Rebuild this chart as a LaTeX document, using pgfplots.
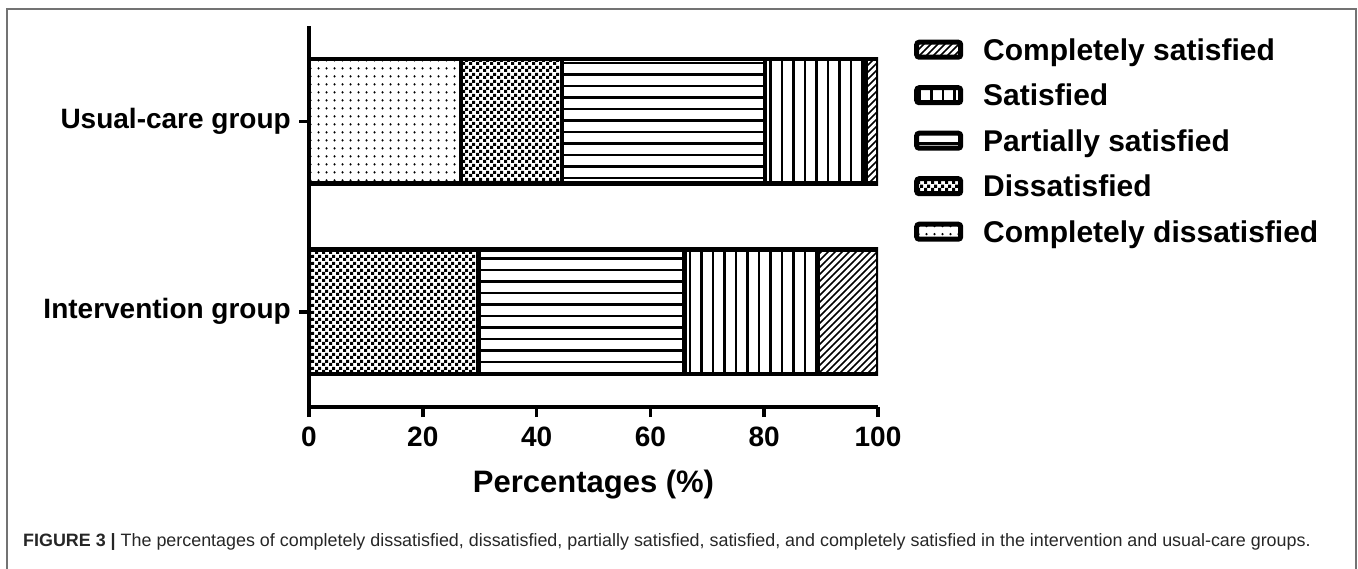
\documentclass[border=0pt]{standalone}
\usepackage{fontspec}
\setmainfont{Liberation Sans}
\usepackage{pgfplots}
\pgfplotsset{compat=1.18}
\usetikzlibrary{patterns}

% fill patterns of the five answers
\pgfdeclarepatternformonly{hlines}{\pgfqpoint{0bp}{-1.5bp}}{\pgfqpoint{20bp}{1.5bp}}{\pgfqpoint{20bp}{11.5bp}}%
  {\pgfsetlinewidth{2.1bp}\pgfpathmoveto{\pgfqpoint{0bp}{0bp}}\pgfpathlineto{\pgfqpoint{20bp}{0bp}}\pgfusepath{stroke}}
\pgfdeclarepatternformonly{vlines}{\pgfqpoint{-1.5bp}{0bp}}{\pgfqpoint{1.5bp}{20bp}}{\pgfqpoint{11.5bp}{20bp}}%
  {\pgfsetlinewidth{2.1bp}\pgfpathmoveto{\pgfqpoint{0bp}{0bp}}\pgfpathlineto{\pgfqpoint{0bp}{20bp}}\pgfusepath{stroke}}
\pgfdeclarepatternformonly{nelines}{\pgfqpoint{-1bp}{-1bp}}{\pgfqpoint{8bp}{8bp}}{\pgfqpoint{7bp}{7bp}}%
  {\pgfsetlinewidth{1.6bp}\pgfpathmoveto{\pgfqpoint{0bp}{0bp}}\pgfpathlineto{\pgfqpoint{7.1bp}{7.1bp}}\pgfusepath{stroke}}
\pgfdeclarepatternformonly{sdots}{\pgfqpoint{0bp}{0bp}}{\pgfqpoint{7.5bp}{7.7bp}}{\pgfqpoint{7.5bp}{7.7bp}}%
  {\pgfpathcircle{\pgfqpoint{3.75bp}{3.85bp}}{1.3bp}\pgfusepath{fill}}
\pgfdeclarepatternformonly{checker}{\pgfqpoint{0bp}{0bp}}{\pgfqpoint{7bp}{7bp}}{\pgfqpoint{7bp}{7bp}}%
  {\pgfpathrectangle{\pgfqpoint{0bp}{0bp}}{\pgfqpoint{3.5bp}{3.5bp}}\pgfpathrectangle{\pgfqpoint{3.5bp}{3.5bp}}{\pgfqpoint{3.5bp}{3.5bp}}\pgfusepath{fill}}

\pgfplotsset{
  seg/.style={draw=black, line width=4.5bp, pattern=#1, pattern color=black,
    legend image code/.code={\draw[##1, line width=5bp, rounded corners=2.5bp] (0bp,-7.5bp) rectangle (44bp,7.5bp);}},
}

\begin{document}
\begin{tikzpicture}
\useasboundingbox (0,0) rectangle (1358bp,-569bp);
\draw[black!55, line width=1.5bp] (7bp,-620bp) -- (7bp,-9bp) -- (1356bp,-9bp) -- (1356bp,-620bp);

\begin{axis}[
  at={(309bp,-407bp)}, anchor=south west,
  scale only axis, width=569bp, height=381bp,
  xbar stacked, bar width=0.655,
  xmin=0, xmax=100, ymin=-0.5, ymax=1.5,
  axis x line*=bottom, axis y line*=left,
  axis line style={line width=4bp},
  xtick={0,20,...,100}, ytick={0,1},
  yticklabels={Intervention group, Usual-care group},
  tick align=outside, major tick length=10bp,
  tick style={line width=3.5bp, black},
  /pgf/number format/assume math mode=true,
  xticklabel style={font=\fontsize{28bp}{30bp}\selectfont\bfseries, inner sep=0bp, anchor=north, yshift=-10bp},
  yticklabel style={font=\fontsize{28bp}{30bp}\selectfont\bfseries, inner sep=0bp, anchor=east, xshift=-8bp},
  xlabel={Percentages (\%)},
  xlabel style={font=\fontsize{31bp}{34bp}\selectfont\bfseries, inner sep=0bp, at={(rel axis cs:0.5,0)}, anchor=base, yshift=-85bp},
  reverse legend,
  legend cell align=left,
  legend style={at={(1.0633,0.9665)}, anchor=north west, draw=none, fill=none, inner sep=0bp,
    row sep=24bp, column sep=20bp,
    font=\fontsize{30bp}{32bp}\selectfont\bfseries,
    nodes={inner sep=0bp, text height=21.5bp, text depth=0bp}},
]
% x = percentage, y = group (0 intervention, 1 usual care)
\addplot[seg=sdots]   coordinates {(0,0)    (26.7,1)};
\addplot[seg=checker] coordinates {(29.8,0) (17.8,1)};
\addplot[seg=hlines]  coordinates {(36.2,0) (35.6,1)};
\addplot[seg=vlines]  coordinates {(23.4,0) (17.8,1)};
\addplot[seg=nelines] coordinates {(10.6,0) (2.1,1)};
\legend{Completely dissatisfied, Dissatisfied, Partially satisfied, Satisfied, Completely satisfied}
\end{axis}

\node[anchor=base west, inner sep=0bp, font=\fontsize{17.9bp}{20bp}\selectfont, text=black!85] at (23bp,-546bp)
  {\textbf{FIGURE 3 |} The percentages of completely dissatisfied, dissatisfied, partially satisfied, satisfied, and completely satisfied in the intervention and usual-care groups.};
\end{tikzpicture}
\end{document}
